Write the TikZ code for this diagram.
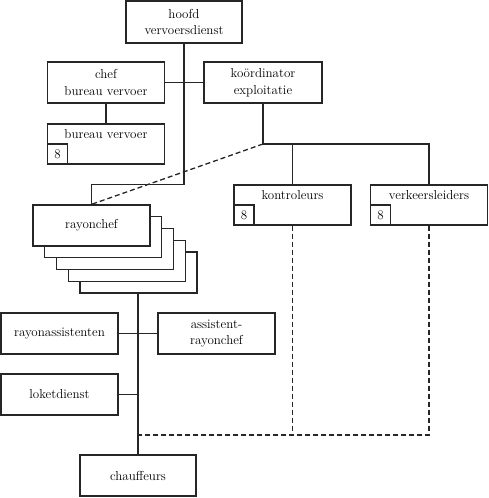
\documentclass[tikz,border=0pt]{standalone}
\begin{document}
\begin{tikzpicture}[x=1pt,y=-1pt,
  every node/.style={font=\fontsize{13}{16.5}\selectfont},
  box/.style={draw=black!85, line width=1.3pt, fill=white, inner sep=0pt, align=center,
              minimum width=117pt, minimum height=41pt},
  numbox/.style={draw=black!85, line width=1.3pt, inner sep=0pt, minimum width=20pt,
              minimum height=20pt, anchor=south west},
  conn/.style={draw=black!85, line width=1.3pt},
  dconn/.style={draw=black!85, line width=1.3pt, dash pattern=on 5pt off 3pt}]
\useasboundingbox (0,0) rectangle (489,498);

% top
\node[box, line width=2.6pt, minimum width=116pt, minimum height=42pt] (hoofd) at (184,22) {hoofd\\vervoersdienst};
\node[box] (chef) at (106,82.5) {chef\\bureau vervoer};
\node[box, minimum width=118pt] (koord) at (263,82.5) {koördinator\\exploitatie};
\node[box, minimum height=40pt] (bureau) at (106,144) {};
\node[anchor=north] (bureaut) at ([yshift=-3pt]bureau.north) {bureau vervoer};
\node[numbox] (bureau8) at (bureau.south west) {8};

\node[box, minimum height=40pt] (kon) at (292.5,205) {};
\node[anchor=north] (kont) at ([yshift=-3pt]kon.north) {kontroleurs};
\node[numbox] (kon8) at (kon.south west) {8};
\node[box, minimum height=40pt] (verk) at (429,205) {};
\node[anchor=north] (verkt) at ([yshift=-3pt]verk.north) {verkeersleiders};
\node[numbox] (verk8) at (verk.south west) {8};

% stacked rayonchef
\node[box] (r4) at (138.5,272.5) {};
\node[box] (r3) at (126.75,260.75) {};
\node[box] (r2) at (115,249) {};
\node[box] (r1) at (103.25,237.25) {};
\node[box] (rayon) at (91.5,225.5) {rayonchef};

% lower
\node[box] (rass) at (59.5,333.5) {rayonassistenten};
\node[box] (assr) at (216.5,333.5) {assistent-\\rayonchef};
\node[box] (loket) at (59.5,394.5) {loketdienst};
\node[box, minimum width=116pt] (chauf) at (138,475.5) {chauffeurs};

% junctions
\coordinate (j1) at (263,144);
\coordinate (j2) at (184,184.7);
\coordinate (j3) at (138,333.5);
\coordinate (j4) at (138,394.5);
\coordinate (j5) at (138,435);
\coordinate (j6) at (292.5,435);
\coordinate (j7) at (429,435);

% connectors
\draw[conn] (hoofd.south) -- (j2) -| (rayon.north);
\draw[conn] (chef.east) -- (koord.west);
\draw[conn] (chef.south) -- (bureau.north);
\draw[conn] (koord.south) -- (j1) -| (kon.north);
\draw[conn] (j1) -| (verk.north);
\draw[dconn] (j1) -- (rayon.north);
\draw[conn] (r4.south -| chauf.north) -- (chauf.north);
\draw[conn] (rass.east) -- (assr.west);
\draw[conn] (loket.east) -- (j4);
\draw[dconn] (kon.south) -- (j6);
\draw[dconn] (verk.south) -- (j7) -- (j5);
\end{tikzpicture}
\end{document}
